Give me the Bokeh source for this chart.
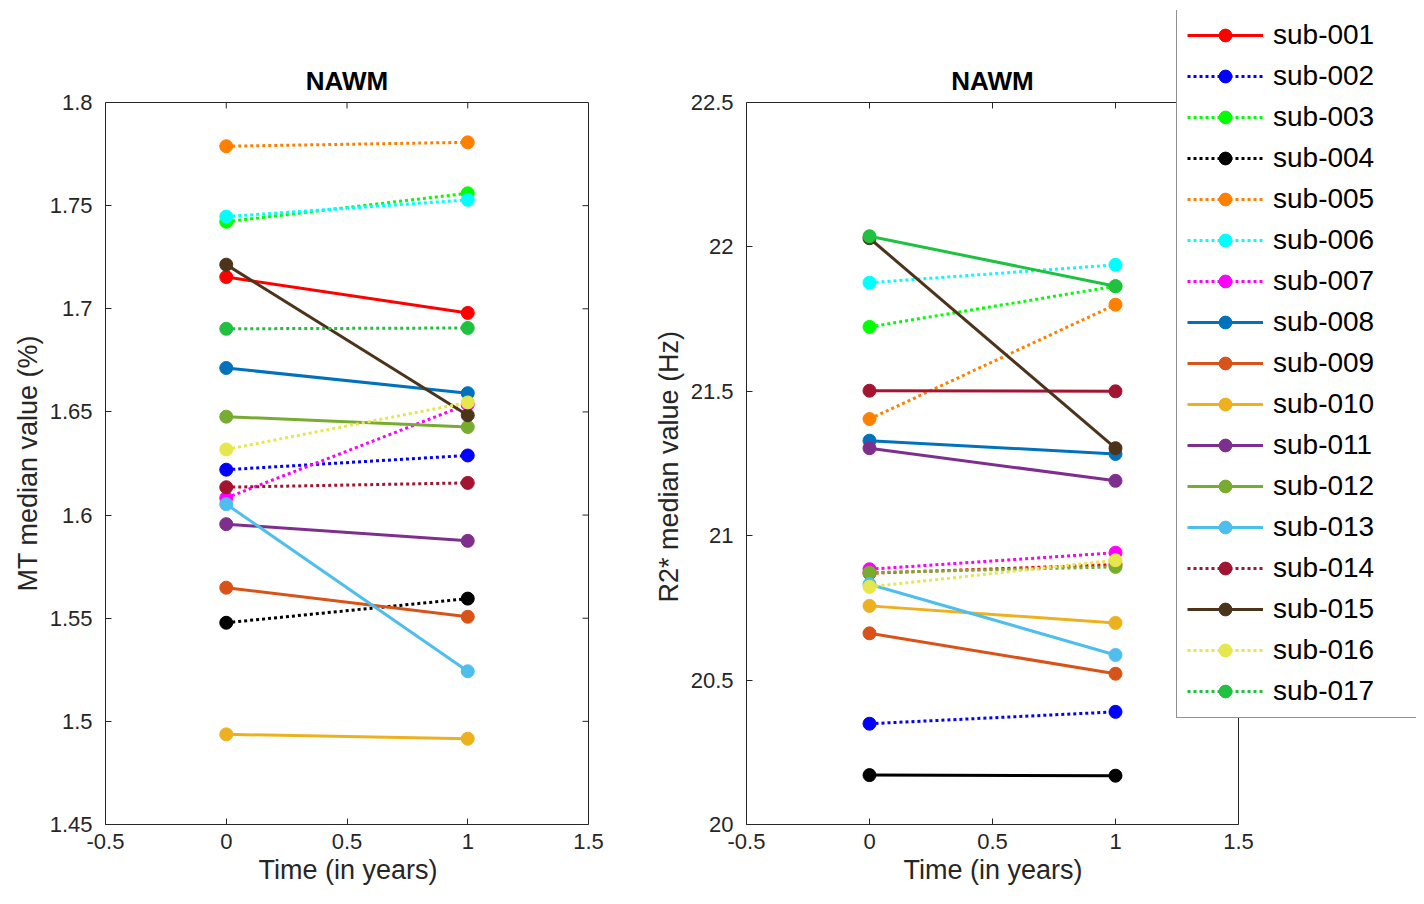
from bokeh.plotting import figure
from bokeh.models import Range1d, FixedTicker, Legend, LegendItem, Label, Title
from bokeh.layouts import row
from bokeh.embed import file_html
from bokeh.resources import INLINE

FONT = "Liberation Sans"
AX = "#262626"

subjects = ["sub-001", "sub-002", "sub-003", "sub-004", "sub-005", "sub-006",
            "sub-007", "sub-008", "sub-009", "sub-010", "sub-011", "sub-012",
            "sub-013", "sub-014", "sub-015", "sub-016", "sub-017"]
years = [0, 1]

mt_year0 = [1.7154, 1.6220, 1.7422, 1.5478, 1.7788, 1.7447, 1.6083, 1.6713, 1.5648,
            1.4937, 1.5956, 1.6477, 1.6053, 1.6135, 1.7214, 1.6318, 1.6903]
mt_year1 = [1.6980, 1.6289, 1.7560, 1.5595, 1.7807, 1.7528, 1.6537, 1.6591, 1.5507,
            1.4916, 1.5875, 1.6427, 1.5243, 1.6156, 1.6484, 1.6546, 1.6907]

r2_year0 = [20.870, 20.349, 21.723, 20.171, 21.404, 21.876, 20.884, 21.329, 20.662,
            20.757, 21.303, 20.872, 20.832, 21.502, 22.030, 20.823, 22.037]
r2_year1 = [20.900, 20.390, 21.864, 20.169, 21.800, 21.938, 20.941, 21.283, 20.522,
            20.698, 21.190, 20.892, 20.587, 21.500, 21.303, 20.915, 21.864]

colors = ["#FF0000", "#0000FF", "#00FF00", "#000000", "#FF8000", "#00FFFF",
          "#FF00FF", "#0072BD", "#D95319", "#EDB120", "#7E2F8E", "#77AC30",
          "#4DBEEE", "#A2142F", "#4D3319", "#E6E64D", "#20C040"]

mt_dotted = [False, True, True, True, True, True, True, False, False, False,
             False, False, False, True, False, True, True]
r2_dotted = [True, True, True, False, True, True, True, False, False, False,
             False, True, False, False, False, True, False]

time_ticks = [-0.5, 0, 0.5, 1, 1.5]
time_labels = ["-0.5", "0", "0.5", "1", "1.5"]
mt_ticks = [1.45, 1.5, 1.55, 1.6, 1.65, 1.7, 1.75, 1.8]
mt_labels = ["1.45", "1.5", "1.55", "1.6", "1.65", "1.7", "1.75", "1.8"]
r2_ticks = [20, 20.5, 21, 21.5, 22, 22.5]
r2_labels = ["20", "20.5", "21", "21.5", "22", "22.5"]

TICK = 6            # inward tick length, px
F_TOP, F_BOT = 10, 824   # frames run from near the page top (legend) to the x axis
AX_TOP = 102             # top edge of the drawn axes boxes


def style_axis(ax, ticks, labels, bounds):
    ax.ticker = FixedTicker(ticks=ticks)
    ax.major_label_overrides = {t: l for t, l in zip(ticks, labels)}
    ax.minor_tick_line_color = None
    ax.major_tick_in = TICK
    ax.major_tick_out = 0
    ax.major_tick_line_color = AX
    ax.axis_line_color = AX
    ax.major_label_text_font = FONT
    ax.major_label_text_color = AX
    ax.major_label_text_font_size = "22px"
    ax.axis_label_text_font = FONT
    ax.axis_label_text_font_style = "normal"
    ax.axis_label_text_color = AX
    ax.axis_label_text_font_size = "27px"
    ax.bounds = bounds


def side_title(text, offset, standoff):
    return Title(text=text, align="left", offset=offset, standoff=standoff,
                 text_font=FONT, text_font_style="normal", text_font_size="27px",
                 text_color=AX)


def make_panel(px_x, xmax, fw, ylo, yhi, yticks, ylabels, ytitle, ytitle_offset):
    px_y = (F_BOT - AX_TOP) / (yhi - ylo)
    fh = F_BOT - F_TOP
    p = figure(frame_width=fw, frame_height=fh,
               x_range=Range1d(-0.5, xmax), y_range=Range1d(ylo, ylo + fh / px_y),
               toolbar_location=None, output_backend="svg",
               min_border_top=F_TOP, min_border_bottom=60)
    p.grid.visible = False
    p.outline_line_color = None
    style_axis(p.xaxis[0], time_ticks, time_labels, (-0.5, 1.5))
    p.xaxis[0].major_label_standoff = 9
    style_axis(p.yaxis[0], yticks, ylabels, (ylo, yhi))
    p.yaxis[0].major_label_standoff = 13
    p.add_layout(side_title(ytitle, ytitle_offset, 8), "left")
    # box: top edge, right edge, inward ticks on both
    p.segment(x0=[-0.5, 1.5], y0=[yhi, ylo], x1=[1.5, 1.5], y1=[yhi, yhi],
              line_color=AX, line_width=1)
    inner_t = time_ticks[1:-1]
    p.segment(x0=inner_t, y0=[yhi] * len(inner_t), x1=inner_t,
              y1=[yhi - TICK / px_y] * len(inner_t), line_color=AX, line_width=1)
    inner_y = yticks[1:-1]
    p.segment(x0=[1.5] * len(inner_y), y0=inner_y,
              x1=[1.5 - TICK / px_x] * len(inner_y), y1=inner_y,
              line_color=AX, line_width=1)
    p.add_layout(Label(x=0.5, y=yhi, x_units="data", y_units="data", y_offset=22,
                       text="NAWM", text_align="center", text_baseline="middle",
                       text_font=FONT, text_font_style="bold",
                       text_font_size="26px", text_color="#000000"))
    return p


def draw(p, y0, y1, dotted):
    for i in range(len(subjects)):
        ys = [y0[i], y1[i]]
        p.line(years, ys, line_color=colors[i], line_width=3,
               line_dash="3 3" if dotted[i] else "solid")
        p.scatter(years, ys, marker="circle", size=13,
                  fill_color=colors[i], line_color=colors[i])


# ---------------- left panel: MT ----------------
L_PX = 483 / 2.0
left = make_panel(L_PX, 1.5 + 2 / L_PX, 485, 1.45, 1.8, mt_ticks, mt_labels,
                  "MT median value (%)", 233)
left.min_border_left = 105
left.min_border_right = 42
left.xaxis[0].axis_label = "Time (in years)"
left.xaxis[0].axis_label_standoff = 3
draw(left, mt_year0, mt_year1, mt_dotted)

# ---------------- right panel: R2* ----------------
R_PX = 492 / 2.0
R_FW = 670
right = make_panel(R_PX, -0.5 + R_FW / R_PX, R_FW, 20, 22.5, r2_ticks, r2_labels,
                   "R2* median value (Hz)", 222)
right.min_border_left = 114
right.min_border_right = 0
right.add_layout(Title(text="Time (in years)", align="left", offset=157, standoff=3,
                       text_font=FONT, text_font_style="normal",
                       text_font_size="27px", text_color=AX), "below")
draw(right, r2_year0, r2_year1, r2_dotted)

# legend entries (styled as in the legend of the original)
items = []
for i in range(len(subjects)):
    ys = [r2_year0[i], r2_year1[i]]
    lr = right.line(years, ys, line_color=colors[i], line_width=3,
                    line_dash="3 3" if mt_dotted[i] else "solid", visible=False)
    sr = right.scatter(years, ys, marker="circle", size=13, fill_color=colors[i],
                       line_color=colors[i], visible=False)
    items.append(LegendItem(label=subjects[i], renderers=[lr, sr]))

legend = Legend(items=items, location=(430, 106), orientation="vertical",
                label_text_font=FONT, label_text_font_size="28px",
                label_text_color="#000000", glyph_width=76, glyph_height=32,
                label_height=32, label_width=170, label_standoff=10,
                spacing=9, padding=10, margin=0,
                border_line_color=AX, border_line_width=1,
                background_fill_color="white", background_fill_alpha=1.0)
right.add_layout(legend, "center")

layout = row(left, right)
open("out.html", "w").write(file_html(layout, INLINE))
